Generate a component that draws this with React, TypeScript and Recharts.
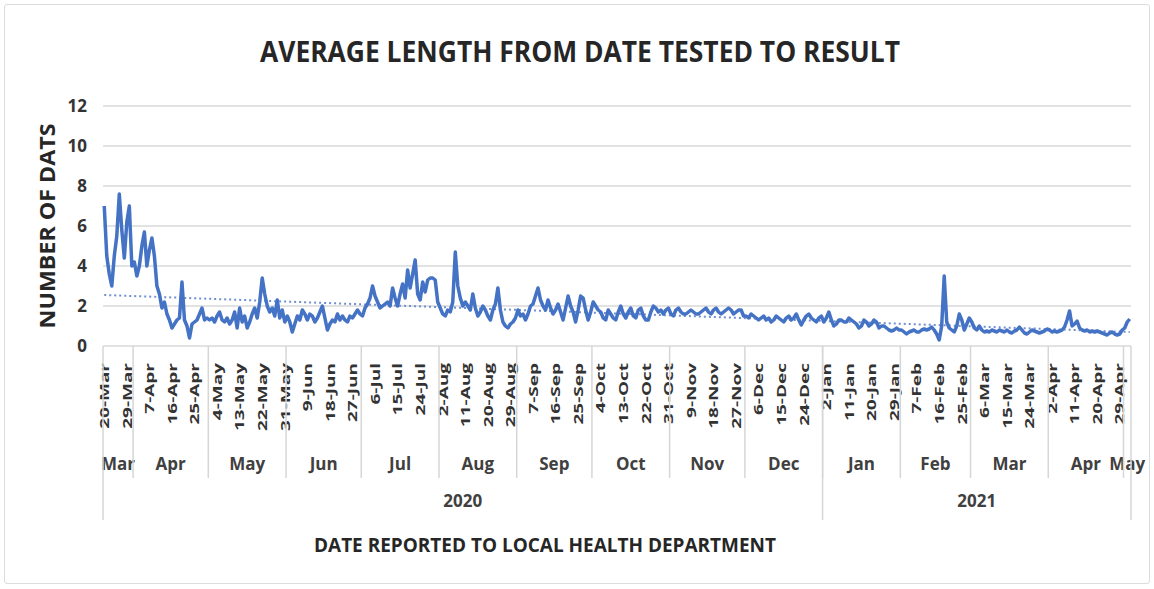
import React from 'react';
import { LineChart, Line, XAxis, YAxis, CartesianGrid } from 'recharts';

// daily average days (tested -> result), one array per month
const mar20 = [7.0, 4.5, 3.6, 3.0, 4.5, 5.5, 7.6, 5.8, 4.4, 6.2, 7.0, 4.0];
const apr20 = [4.2, 3.5, 4.0, 5.0, 5.7, 4.0, 4.8, 5.4, 4.5, 3.0, 2.6, 1.9, 2.2, 1.6, 1.3, 0.9, 1.1, 1.3, 1.4, 3.2, 1.3, 1.0, 0.4, 1.1, 1.2, 1.3, 1.6, 1.9, 1.3, 1.4];
const may20 = [1.3, 1.4, 1.2, 1.5, 1.7, 1.3, 1.2, 1.4, 1.1, 1.3, 1.7, 0.9, 1.9, 1.2, 1.5, 0.9, 1.2, 1.6, 1.9, 1.4, 2.2, 3.4, 2.6, 2.0, 1.7, 1.9, 1.5, 2.3, 1.4, 1.8, 1.2];
const jun20 = [1.5, 1.2, 0.7, 1.1, 1.5, 1.3, 1.8, 1.6, 1.3, 1.6, 1.5, 1.2, 1.4, 1.7, 2.0, 1.4, 0.8, 1.1, 1.3, 1.2, 1.6, 1.3, 1.5, 1.3, 1.2, 1.5, 1.4, 1.6, 1.8, 1.6];
const jul20 = [1.5, 1.9, 2.1, 2.4, 3.0, 2.5, 2.2, 1.9, 2.0, 2.1, 2.2, 2.0, 2.9, 2.4, 2.0, 2.6, 3.1, 2.4, 3.8, 2.9, 3.6, 4.3, 2.6, 2.3, 3.2, 2.7, 3.3, 3.4, 3.4, 3.3, 2.2];
const aug20 = [1.9, 1.6, 1.5, 1.8, 1.7, 2.2, 4.7, 3.0, 2.4, 2.0, 2.2, 2.0, 1.8, 2.6, 1.9, 1.5, 1.7, 2.0, 1.8, 1.5, 1.3, 1.8, 2.1, 2.9, 1.8, 1.2, 1.0, 0.9, 1.1, 1.2, 1.4];
const sep20 = [1.8, 1.5, 1.6, 1.3, 1.6, 2.0, 2.1, 2.5, 2.9, 2.3, 2.0, 1.8, 2.3, 1.9, 1.6, 1.8, 2.1, 1.7, 1.3, 1.9, 2.5, 2.0, 1.7, 1.2, 1.8, 2.5, 2.4, 1.8, 1.3, 1.7];
const oct20 = [2.2, 2.0, 1.8, 1.7, 1.4, 1.3, 1.8, 1.6, 1.4, 1.3, 1.7, 2.0, 1.6, 1.4, 1.7, 1.9, 1.5, 1.4, 1.8, 1.9, 1.5, 1.3, 1.3, 1.7, 2.0, 1.9, 1.7, 1.8, 1.6, 1.8, 1.9];
const nov20 = [1.6, 1.5, 1.8, 1.9, 1.7, 1.6, 1.6, 1.7, 1.8, 1.7, 1.6, 1.6, 1.7, 1.8, 1.9, 1.7, 1.6, 1.8, 1.9, 1.7, 1.6, 1.7, 1.8, 1.9, 1.8, 1.6, 1.7, 1.8, 1.8, 1.5];
const dec20 = [1.5, 1.4, 1.6, 1.5, 1.4, 1.3, 1.4, 1.5, 1.3, 1.4, 1.2, 1.3, 1.5, 1.4, 1.3, 1.2, 1.4, 1.5, 1.3, 1.4, 1.6, 1.3, 1.05, 1.3, 1.5, 1.6, 1.4, 1.3, 1.2, 1.4, 1.5];
const jan21 = [1.2, 1.4, 1.7, 1.3, 1.0, 1.1, 1.3, 1.3, 1.2, 1.2, 1.4, 1.3, 1.2, 1.1, 0.9, 1.0, 1.3, 1.2, 1.0, 1.1, 1.3, 1.2, 0.9, 1.0, 1.0, 0.9, 0.8, 0.75, 0.8, 0.9, 0.8];
const feb21 = [0.8, 0.7, 0.6, 0.7, 0.75, 0.8, 0.7, 0.7, 0.8, 0.85, 0.8, 0.85, 0.95, 0.8, 0.6, 0.3, 1.0, 3.5, 1.2, 0.9, 0.8, 0.7, 1.0, 1.6, 1.3, 0.8, 1.1, 1.4];
const mar21 = [1.2, 0.9, 0.8, 1.0, 0.8, 0.7, 0.75, 0.7, 0.8, 0.75, 0.7, 0.8, 0.75, 0.7, 0.8, 0.7, 0.65, 0.75, 0.8, 0.95, 0.8, 0.65, 0.6, 0.7, 0.8, 0.75, 0.7, 0.65, 0.7, 0.75, 0.85];
const apr21 = [0.8, 0.7, 0.75, 0.7, 0.75, 0.8, 0.95, 1.3, 1.75, 1.0, 1.1, 1.25, 0.9, 0.8, 0.75, 0.8, 0.7, 0.75, 0.7, 0.75, 0.7, 0.65, 0.6, 0.55, 0.65, 0.7, 0.6, 0.55, 0.6, 0.8];
const may21 = [0.9, 1.2, 1.35];

const monthSeries = [mar20, apr20, may20, jun20, jul20, aug20, sep20, oct20, nov20, dec20, jan21, feb21, mar21, apr21, may21];
const monthNames = ['Mar', 'Apr', 'May', 'Jun', 'Jul', 'Aug', 'Sep', 'Oct', 'Nov', 'Dec', 'Jan', 'Feb', 'Mar', 'Apr', 'May'];
const yearNames = ['2020', '2021'];
const monthsPerYear = [10, 5];

// linear trend line end points (dotted)
const trendStart = 2.55;
const trendEnd = 0.7;

// every 9th day is labelled
const tickLabels = [
  '20-Mar', '29-Mar', '7-Apr', '16-Apr', '25-Apr', '4-May', '13-May', '22-May', '31-May',
  '9-Jun', '18-Jun', '27-Jun', '6-Jul', '15-Jul', '24-Jul', '2-Aug', '11-Aug', '20-Aug', '29-Aug',
  '7-Sep', '16-Sep', '25-Sep', '4-Oct', '13-Oct', '22-Oct', '31-Oct', '9-Nov', '18-Nov', '27-Nov',
  '6-Dec', '15-Dec', '24-Dec', '2-Jan', '11-Jan', '20-Jan', '29-Jan', '7-Feb', '16-Feb', '25-Feb',
  '6-Mar', '15-Mar', '24-Mar', '2-Apr', '11-Apr', '20-Apr', '29-Apr',
];
const tickStep = 9;
const yTicks = [0, 2, 4, 6, 8, 10, 12];

const values = monthSeries.flat();
const last = values.length - 1;
const data = values.map((v, i) => ({
  i,
  v,
  trend: i === 0 ? trendStart : i === last ? trendEnd : null,
}));

let cursor = 0;
const monthSpans = monthSeries.map((m, k) => {
  const s = cursor;
  cursor += m.length;
  return { name: monthNames[k], s, e: cursor - 1 };
});
let mCursor = 0;
const yearSpans = yearNames.map((name, k) => {
  const first = monthSpans[mCursor];
  const lastM = monthSpans[mCursor + monthsPerYear[k] - 1];
  mCursor += monthsPerYear[k];
  return { name, s: first.s, e: lastM.e };
});

const dayTicks = tickLabels.map((_, k) => k * tickStep);
const monthCenters = monthSpans.map((m) => (m.s + m.e) / 2);
const monthBounds = monthSpans.slice(1).map((m) => m.s - 0.5);
const monthTicks = [...monthCenters, ...monthBounds];
const yearCenters = yearSpans.map((y) => (y.s + y.e) / 2);
const yearBounds = [-0.5, ...yearSpans.map((y) => y.e + 0.5)];
const yearTicks = [...yearCenters, ...yearBounds];

const FONT = '"Open Sans", "DejaVu Sans", sans-serif';
const TXT = '#333333';
const SEP = '#d6d6d6';
const DAY_H = 100;
const MONTH_H = 36;
const YEAR_H = 40;

const DayTick = (props: any) => {
  const { x, y, payload } = props;
  const label = tickLabels[Math.round(payload.value / tickStep)];
  return (
    <text
      transform={`translate(${x},${y + 17}) scale(0.68,1) rotate(-90)`}
      textAnchor="end"
      dominantBaseline="central"
      fontSize={19}
      fontWeight={700}
      fontFamily={FONT}
      fill={TXT}
    >
      {label}
    </text>
  );
};

const MonthTick = (props: any) => {
  const { x, y, payload } = props;
  const k = monthCenters.indexOf(payload.value);
  if (k < 0) {
    return <line x1={x} x2={x} y1={y - DAY_H} y2={y + 32} stroke={SEP} strokeWidth={1.5} />;
  }
  return (
    <text x={x} y={y + 17} textAnchor="middle" dominantBaseline="central" fontSize={17} fontWeight={700} fontFamily={FONT} fill="#404040">
      {monthSpans[k].name}
    </text>
  );
};

const YearTick = (props: any) => {
  const { x, y, payload } = props;
  const k = yearCenters.indexOf(payload.value);
  if (k < 0) {
    return <line x1={x} x2={x} y1={y - DAY_H - MONTH_H} y2={y + 38} stroke={SEP} strokeWidth={1.5} />;
  }
  return (
    <text x={x} y={y + 18} textAnchor="middle" dominantBaseline="central" fontSize={17} fontWeight={700} fontFamily={FONT} fill="#404040">
      {yearSpans[k].name}
    </text>
  );
};

const App: React.FC = () => {
  return (
    <div style={{ position: 'absolute', left: 0, top: 0, width: 1154, height: 589, background: '#fff' }}>
      <div style={{ position: 'absolute', left: 4, top: 4, width: 1144, height: 578, border: '1px solid #dcdcdc', borderRadius: 3 }} />
      <LineChart
        width={1154}
        height={589}
        data={data}
        margin={{ top: 106, right: 23, left: 43, bottom: 67 }}
        style={{ position: 'absolute', left: 0, top: 0 }}
      >
        <CartesianGrid xAxisId="day" vertical={false} stroke="#d9d9d9" strokeWidth={1.5} />
        <XAxis
          xAxisId="day"
          dataKey="i"
          type="number"
          domain={[-0.5, last + 0.5]}
          ticks={dayTicks}
          interval={0}
          height={DAY_H}
          axisLine={false}
          tickLine={false}
          tickSize={0}
          tickMargin={0}
          tick={<DayTick />}
        />
        <XAxis
          xAxisId="month"
          dataKey="i"
          type="number"
          domain={[-0.5, last + 0.5]}
          ticks={monthTicks}
          interval={0}
          height={MONTH_H}
          axisLine={false}
          tickLine={false}
          tickSize={0}
          tickMargin={0}
          tick={<MonthTick />}
        />
        <XAxis
          xAxisId="year"
          dataKey="i"
          type="number"
          domain={[-0.5, last + 0.5]}
          ticks={yearTicks}
          interval={0}
          height={YEAR_H}
          axisLine={false}
          tickLine={false}
          tickSize={0}
          tickMargin={0}
          tick={<YearTick />}
        />
        <YAxis
          width={60}
          domain={[0, 12]}
          ticks={yTicks}
          interval={0}
          axisLine={false}
          tickLine={false}
          tickSize={0}
          tickMargin={16}
          tick={{ fontSize: 17, fontWeight: 700, fontFamily: FONT, fill: TXT }}
        />
        <Line
          xAxisId="day"
          dataKey="trend"
          connectNulls
          dot={false}
          stroke="#6f8fd0"
          strokeWidth={2}
          strokeDasharray="2 3"
          isAnimationActive={false}
        />
        <Line
          xAxisId="day"
          dataKey="v"
          type="linear"
          dot={false}
          stroke="#4472C4"
          strokeWidth={3.5}
          strokeLinejoin="round"
          isAnimationActive={false}
        />
      </LineChart>
      <svg width={1154} height={589} style={{ position: 'absolute', left: 0, top: 0, pointerEvents: 'none' }}>
        <text x={580} y={62} textAnchor="middle" fontSize={28} fontWeight={700} fontFamily={FONT} fill="#262626" textLength={640} lengthAdjust="spacingAndGlyphs">
          AVERAGE LENGTH FROM DATE TESTED TO RESULT
        </text>
        <text
          transform="translate(47,226) rotate(-90)"
          textAnchor="middle"
          dominantBaseline="central"
          fontSize={21}
          fontWeight={700}
          fontFamily={FONT}
          fill="#262626"
          textLength={205}
          lengthAdjust="spacingAndGlyphs"
        >
          NUMBER OF DATS
        </text>
        <text x={545} y={545} textAnchor="middle" dominantBaseline="central" fontSize={19} fontWeight={700} fontFamily={FONT} fill="#262626" textLength={462} lengthAdjust="spacingAndGlyphs">
          DATE REPORTED TO LOCAL HEALTH DEPARTMENT
        </text>
      </svg>
    </div>
  );
};

export default App;
